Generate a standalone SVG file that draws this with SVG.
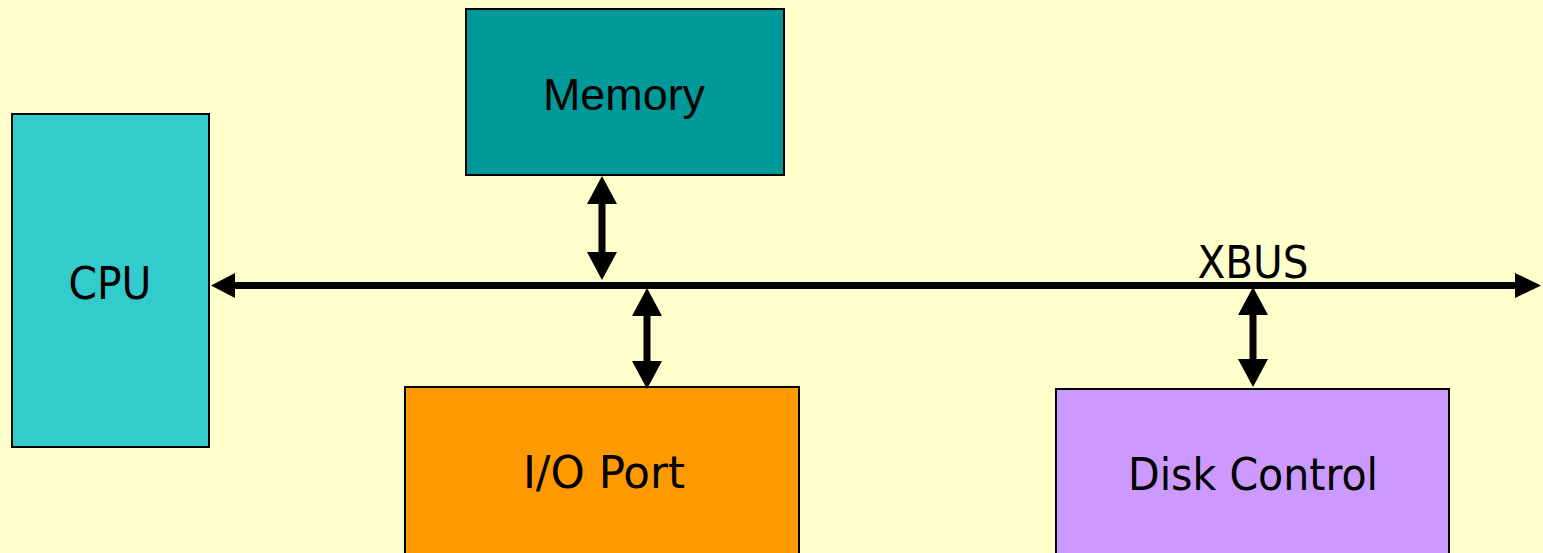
<svg xmlns="http://www.w3.org/2000/svg" width="1543" height="553" viewBox="0 0 1543 553">
  <style>
    .box { stroke: #000; stroke-width: 2; }
    .lbl { font-family: "DejaVu Sans", Tahoma, sans-serif; font-size: 44px; fill: #000; text-anchor: middle; }
    .lbl-arial { font-family: "Liberation Sans", Arial, sans-serif; font-size: 44px; fill: #000; text-anchor: middle; }
    .arrow { fill: #000; stroke: none; }
  </style>
  <rect width="1543" height="553" fill="#FFFFCC"/>

  <g id="cpu">
    <rect class="box" x="12" y="114" width="197" height="333" fill="#33CCCC"/>
    <text class="lbl" x="110" y="299" textLength="83" lengthAdjust="spacingAndGlyphs">CPU</text>
  </g>

  <g id="memory">
    <rect class="box" x="466" y="9" width="318" height="166" fill="#009999"/>
    <text class="lbl-arial" x="624" y="110" textLength="162" lengthAdjust="spacingAndGlyphs">Memory</text>
  </g>

  <g id="io-port">
    <rect class="box" x="405" y="387" width="394" height="172" fill="#FF9900"/>
    <text class="lbl" x="604" y="488" textLength="162" lengthAdjust="spacingAndGlyphs">I/O Port</text>
  </g>

  <g id="disk-control">
    <rect class="box" x="1056" y="389" width="393" height="172" fill="#CC99FF"/>
    <text class="lbl" x="1253" y="490" textLength="250" lengthAdjust="spacingAndGlyphs">Disk Control</text>
  </g>

  <g id="connectors">
    <!-- XBUS: horizontal double-headed bus -->
    <polygon class="arrow" points="211,285.5 235,273 235,282 1515,282 1515,273 1541,285.5 1515,298 1515,289 235,289 235,298"/>
    <text class="lbl" x="1253" y="278" textLength="111" lengthAdjust="spacingAndGlyphs">XBUS</text>
    <!-- Memory <-> bus -->
    <polygon class="arrow" points="602,176 617,204 605.5,204 605.5,252 617,252 602,280 587,252 598.5,252 598.5,204 587,204"/>
    <!-- bus <-> I/O Port -->
    <polygon class="arrow" points="647,288 662,316 650.5,316 650.5,361 662,361 647,389 632,361 643.5,361 643.5,316 632,316"/>
    <!-- bus <-> Disk Control -->
    <polygon class="arrow" points="1253,287 1268,315 1256.5,315 1256.5,359 1268,359 1253,387 1238,359 1249.5,359 1249.5,315 1238,315"/>
  </g>
</svg>
